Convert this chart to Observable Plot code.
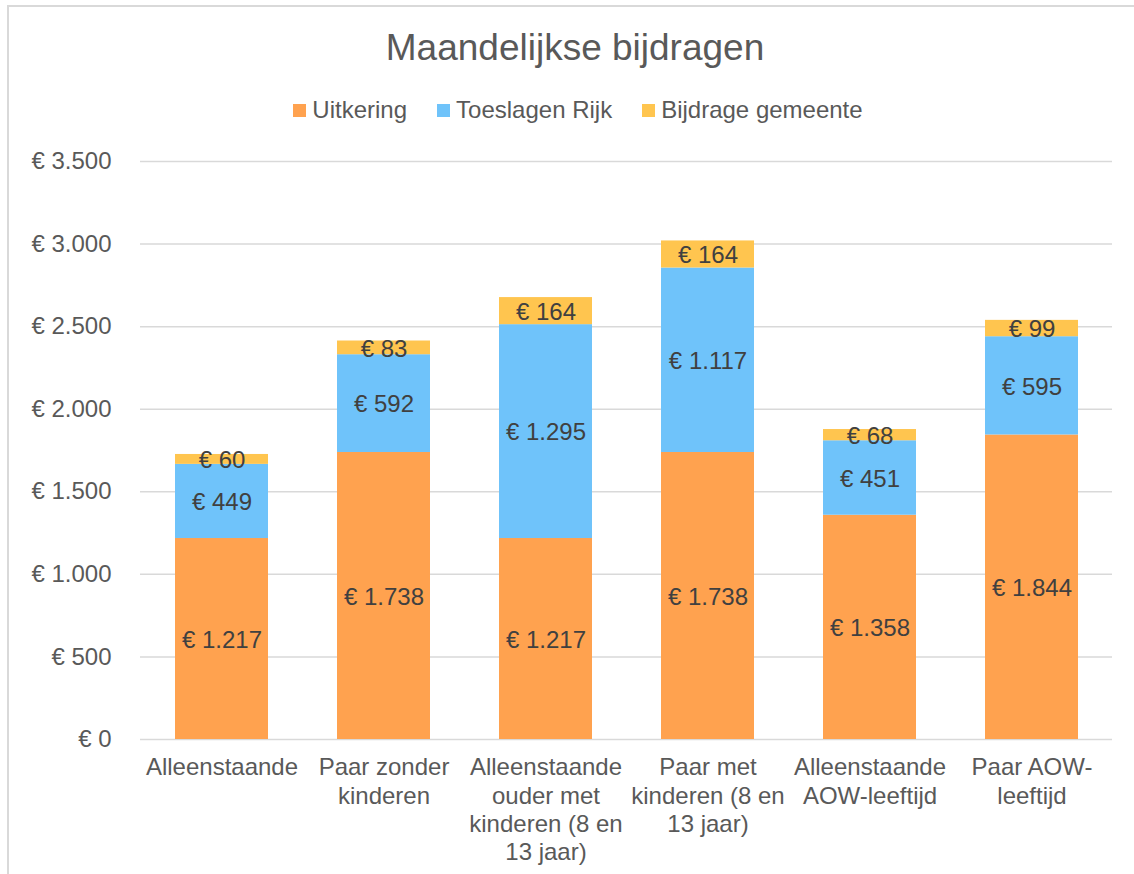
<!DOCTYPE html>
<html>
<head>
<meta charset="utf-8">
<script src="https://cdn.jsdelivr.net/npm/d3@7"></script>
<script src="https://cdn.jsdelivr.net/npm/@observablehq/plot@0.6"></script>
<style>
  html, body { margin: 0; padding: 0; background: #fff; overflow: hidden; }
  body { width: 1134px; height: 874px; position: relative; font-family: "Liberation Sans", Arial, sans-serif; }
  #frame { position: absolute; left: 7px; top: 5px; width: 1140px; height: 880px; border-left: 2px solid #d9d9d9; border-top: 2px solid #d9d9d9; box-sizing: border-box; }
  #title { position: absolute; left: 0; width: 1150px; top: 26px; text-align: center; font-size: 37px; color: #595959; line-height: 44px; }
  #legend { position: absolute; left: 0; width: 1156px; top: 96px; display: flex; justify-content: center; align-items: center; font-size: 24px; color: #595959; line-height: 28px; }
  .item { display: flex; align-items: center; margin: 0 15px; }
  .sw { width: 13px; height: 13px; margin-right: 6px; }
  #chart { position: absolute; left: 0; top: 140px; }
</style>
</head>
<body>
<div id="frame"></div>
<div id="title">Maandelijkse bijdragen</div>
<div id="legend"></div>
<div id="chart"></div>
<script>
const categories = ["Alleenstaande", "Paar zonder kinderen", "Alleenstaande ouder met kinderen (8 en 13 jaar)", "Paar met kinderen (8 en 13 jaar)", "Alleenstaande AOW-leeftijd", "Paar AOW-leeftijd"];
const tickLabels = ["Alleenstaande", "Paar zonder\nkinderen", "Alleenstaande\nouder met\nkinderen (8 en\n13 jaar)", "Paar met\nkinderen (8 en\n13 jaar)", "Alleenstaande\nAOW-leeftijd", "Paar AOW-\nleeftijd"];
const seriesNames = ["Uitkering", "Toeslagen Rijk", "Bijdrage gemeente"];
const seriesColors = ["#FFA24F", "#6FC3FA", "#FFC54F"];
const uitkering = [1217, 1738, 1217, 1738, 1358, 1844];
const toeslagenRijk = [449, 592, 1295, 1117, 451, 595];
const bijdrageGemeente = [60, 83, 164, 164, 68, 99];
const yTicks = [0, 500, 1000, 1500, 2000, 2500, 3000, 3500];

const seriesValues = [uitkering, toeslagenRijk, bijdrageGemeente];
const data = [];
seriesNames.forEach((s, si) => categories.forEach((c, ci) => data.push({category: c, series: s, value: seriesValues[si][ci]})));

const nl = d3.formatLocale({decimal: ",", thousands: ".", grouping: [3], currency: ["€ ", ""]});
const fmt = v => "€ " + nl.format(",")(v);

// legend
const legend = document.getElementById("legend");
seriesNames.forEach((s, i) => {
  const it = document.createElement("div"); it.className = "item";
  const sw = document.createElement("div"); sw.className = "sw"; sw.style.background = seriesColors[i];
  const tx = document.createElement("span"); tx.textContent = s;
  it.appendChild(sw); it.appendChild(tx); legend.appendChild(it);
});

const chart = Plot.plot({
  width: 1134,
  height: 734,
  marginLeft: 140,
  marginRight: 22,
  marginTop: 21,
  marginBottom: 135,
  style: {fontFamily: "'Liberation Sans', Arial, sans-serif", fontSize: "24px", color: "#595959", background: "transparent"},
  x: {domain: categories, paddingInner: 0.426, paddingOuter: 0.213, label: null},
  y: {domain: [0, 3500], label: null},
  color: {domain: seriesNames, range: seriesColors},
  marks: [
    Plot.gridY(yTicks, {stroke: "#d9d9d9", strokeOpacity: 1, strokeWidth: 1.5}),
    Plot.barY(data, {x: "category", y: "value", fill: "series", order: seriesNames}),
    Plot.text(data, Plot.stackY({x: "category", y: "value", z: "series", order: seriesNames, text: d => fmt(d.value), fill: "#404040", fontSize: 24, dy: 1})),
    Plot.axisY({ticks: yTicks, tickSize: 0, tickPadding: 29, tickFormat: fmt, fontSize: 24, fill: "#595959", label: null}),
    Plot.axisX({tickSize: 0, tickPadding: 16, tickFormat: c => tickLabels[categories.indexOf(c)], fontSize: 24, lineHeight: 1.17, fill: "#595959", label: null})
  ]
});
document.getElementById("chart").appendChild(chart);
</script>
</body>
</html>
